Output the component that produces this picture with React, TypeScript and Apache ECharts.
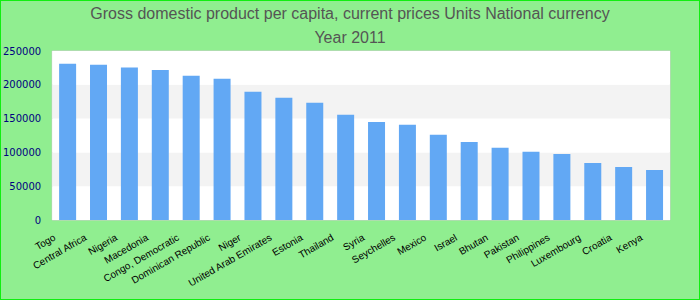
import React, { useEffect, useRef } from "react";
import * as echarts from "echarts";

const titleLines = [
  "Gross domestic product per capita, current prices Units National currency",
  "Year 2011",
];

const categories = [
  "Togo",
  "Central Africa",
  "Nigeria",
  "Macedonia",
  "Congo, Democratic",
  "Dominican Republic",
  "Niger",
  "United Arab Emirates",
  "Estonia",
  "Thailand",
  "Syria",
  "Seychelles",
  "Mexico",
  "Israel",
  "Bhutan",
  "Pakistan",
  "Philippines",
  "Luxembourg",
  "Croatia",
  "Kenya",
];

const gdpValues = [
  231000, 229500, 225500, 222000, 213500, 209000, 189800, 181000, 173500, 155800,
  145000, 141000, 126000, 115500, 106800, 100800, 97800, 84500, 78500, 74000,
];

const yMin = 0;
const yMax = 250000;
const yInterval = 50000;

export default function App() {
  const ref = useRef<HTMLDivElement>(null);

  useEffect(() => {
    if (!ref.current) return;
    const chart = echarts.init(ref.current, undefined, { renderer: "svg" });
    const titleStyle = {
      fontFamily: "Liberation Sans, Arial, sans-serif",
      fontSize: 16,
      fontWeight: "normal",
      color: "#555555",
    };
    chart.setOption({
      animation: false,
      backgroundColor: "#90ee90",
      title: [
        { text: titleLines[0], left: "center", top: 0, textStyle: titleStyle },
        { text: titleLines[1], left: "center", top: 24, textStyle: titleStyle },
      ],
      grid: {
        left: 50,
        right: 30,
        top: 51,
        bottom: 80,
        show: true,
        backgroundColor: "#ffffff",
        borderColor: "#cccccc",
        borderWidth: 1,
        containLabel: false,
      },
      xAxis: {
        type: "category",
        data: categories,
        axisLine: { show: false },
        axisTick: { show: false },
        axisLabel: {
          interval: 0,
          rotate: 30,
          margin: 9,
          padding: [0, 15, 0, 0],
          fontFamily: "Liberation Sans, Arial, sans-serif",
          fontSize: 10,
          color: "#000000",
        },
      },
      yAxis: {
        type: "value",
        min: yMin,
        max: yMax,
        interval: yInterval,
        axisLine: { show: false },
        axisTick: { show: false },
        splitLine: { show: false },
        splitArea: {
          show: true,
          areaStyle: { color: ["#ffffff", "#f3f3f3"] },
        },
        axisLabel: {
          margin: 11,
          fontFamily: "DejaVu Sans, sans-serif",
          fontSize: 10,
          color: "#000080",
          formatter: (v: number) => String(v),
        },
      },
      series: [
        {
          type: "bar",
          data: gdpValues,
          barWidth: 17,
          itemStyle: { color: "#62a8f4" },
        },
      ],
    });
    return () => chart.dispose();
  }, []);

  return (
    <div style={{ position: "absolute", left: 0, top: 0, width: 700, height: 300 }}>
      <div ref={ref} style={{ position: "absolute", left: 0, top: 0, width: 700, height: 300 }} />
      <div
        style={{
          position: "absolute",
          left: 0,
          top: 0,
          width: 700,
          height: 300,
          boxSizing: "border-box",
          border: "1px solid #11ee11",
          pointerEvents: "none",
        }}
      />
    </div>
  );
}
